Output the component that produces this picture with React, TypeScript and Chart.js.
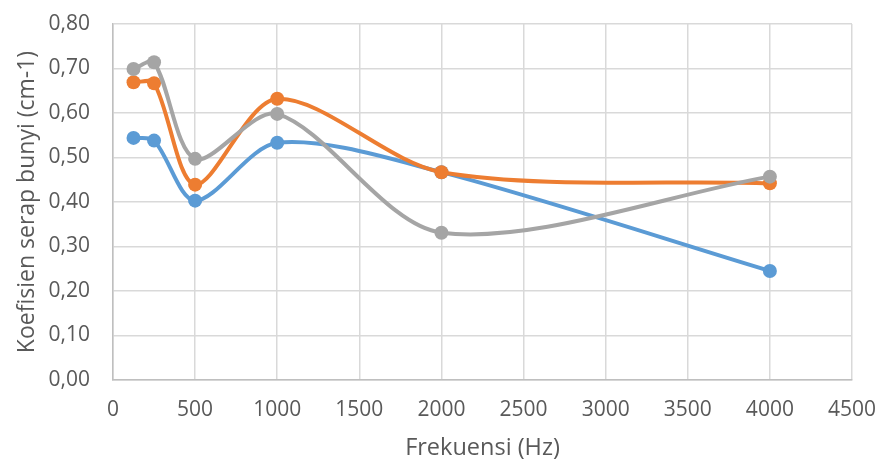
import React, { useEffect, useRef } from "react";
import { Chart, registerables } from "chart.js";

Chart.register(...registerables);

const frequencies = [125, 250, 500, 1000, 2000, 4000];
const seriesBlue = [0.544, 0.538, 0.403, 0.533, 0.467, 0.245];
const seriesOrange = [0.669, 0.667, 0.439, 0.632, 0.467, 0.442];
const seriesGray = [0.699, 0.714, 0.497, 0.598, 0.331, 0.457];

const xTicks = { min: 0, max: 4500, step: 500 };
const yTicks = { min: 0, max: 0.8, step: 0.1 };

const xTitle = "Frekuensi (Hz)";
const yTitle = "Koefisien serap bunyi (cm-1)";

const FONT = "'Open Sans', sans-serif";
const TEXT = "#595959";

function toPoints(values: number[]) {
  return frequencies.map((f, i) => ({ x: f, y: values[i] }));
}

export default function App() {
  const ref = useRef<HTMLCanvasElement | null>(null);

  useEffect(() => {
    if (!ref.current) return;
    const mk = (label: string, values: number[], color: string, order: number) => ({
      label,
      data: toPoints(values),
      borderColor: color,
      backgroundColor: color,
      pointBackgroundColor: color,
      pointBorderColor: color,
      pointRadius: 7,
      pointBorderWidth: 0,
      borderWidth: 4,
      tension: 0.3,
      showLine: true,
      fill: false,
      order,
    });
    const chart = new Chart(ref.current, {
      type: "scatter",
      data: {
        datasets: [
          mk("Seri 1", seriesBlue, "#5B9BD5", 2),
          mk("Seri 2", seriesOrange, "#ED7D31", 1),
          mk("Seri 3", seriesGray, "#A5A5A5", 0),
        ],
      },
      options: {
        responsive: false,
        animation: false,
        devicePixelRatio: 1,
        layout: { padding: { left: 0, right: 28, top: 24, bottom: 0 } },
        plugins: {
          legend: { display: false },
          tooltip: { enabled: false },
        },
        scales: {
          x: {
            type: "linear",
            min: xTicks.min,
            max: xTicks.max,
            afterFit: (s: any) => {
              s.height = 81;
              s.paddingLeft = 0;
              s.paddingRight = 0;
            },
            ticks: {
              stepSize: xTicks.step,
              padding: 17,
              color: TEXT,
              font: { family: FONT, size: 21 },
              maxRotation: 0,
              callback: (v: any) => String(v),
            },
            grid: { color: "#d9d9d9", lineWidth: 1.5, drawTicks: false },
            border: { color: "#bfbfbf", width: 1.5 },
            title: {
              display: true,
              text: xTitle,
              color: TEXT,
              font: { family: FONT, size: 23.5 },
              padding: { top: 0, bottom: -1 },
            },
          },
          y: {
            min: yTicks.min,
            max: yTicks.max,
            afterFit: (s: any) => {
              s.width = 113;
              s.paddingTop = 0;
              s.paddingBottom = 0;
            },
            ticks: {
              stepSize: yTicks.step,
              padding: 23,
              color: TEXT,
              font: { family: FONT, size: 21 },
              callback: (v: any) => Number(v).toFixed(2).replace(".", ","),
            },
            grid: { color: "#d9d9d9", lineWidth: 1.5, drawTicks: false },
            border: { color: "#bfbfbf", width: 1.5 },
            title: {
              display: true,
              text: yTitle,
              color: TEXT,
              font: { family: FONT, size: 23 },
              padding: { top: 14, bottom: 0 },
            },
          },
        },
      },
    });
    return () => chart.destroy();
  }, []);

  return (
    <div style={{ position: "fixed", left: 0, top: 0, width: 880, height: 461, background: "#fff" }}>
      <canvas ref={ref} width={880} height={461} style={{ width: 880, height: 461, display: "block" }} />
    </div>
  );
}
